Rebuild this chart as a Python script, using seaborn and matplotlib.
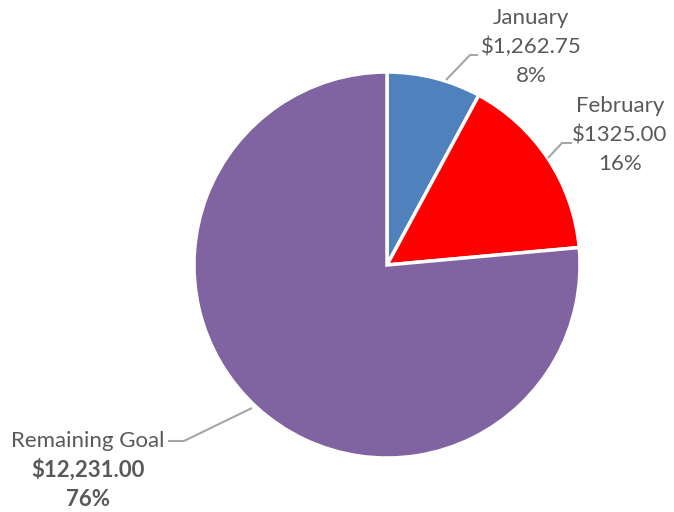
import matplotlib
matplotlib.use("Agg")
import matplotlib.pyplot as plt
import seaborn as sns

# ---- data ----
categories = ["January", "February", "Remaining Goal"]
slice_values = [1262.75, 2506.25, 12231.00]
amount_labels = ["$1,262.75", "$1325.00", "$12,231.00"]
percent_labels = ["8%", "16%", "76%"]
slice_colors = ["#4F81BD", "#FF0000", "#8064A2"]

sns.set_theme(style="white")
plt.rcParams["font.family"] = ["Lato", "DejaVu Sans"]

W, H = 674, 512
fig = plt.figure(figsize=(W / 100, H / 100), dpi=100)
ax = fig.add_axes([0, 0, 1, 1])

cx, cy, R = 387, 265, 193  # pixel centre / radius


def px(x, y):
    return ((x - cx) / R, (cy - y) / R)


ax.pie(slice_values, colors=sns.color_palette(slice_colors), startangle=90,
       counterclock=False, radius=1.0,
       wedgeprops=dict(edgecolor="white", linewidth=2.5))
ax.set_xlim(-cx / R, (W - cx) / R)
ax.set_ylim(-(H - cy) / R, cy / R)
ax.set_aspect("equal")
ax.axis("off")

txt_color = "#595959"
line_color = "#A6A6A6"
fs = 16

# label layout (pixel positions): centre x, y of first line, line spacing
layout = [
    (531, 18, 29, False),
    (620, 106, 29, False),
    (88, 441, 29, True),
]
leaders = [
    [(446, 80), (470, 55), (478, 55)],
    [(548, 158), (562, 143), (572, 143)],
    [(252, 408), (184, 441), (168, 441)],
]

for i, cat in enumerate(categories):
    x, y0, dy, bold = layout[i]
    lines = [cat, amount_labels[i], percent_labels[i]]
    for j, t in enumerate(lines):
        w = "bold" if (bold and j > 0) else "normal"
        ax.text(*px(x, y0 + j * dy), t, ha="center", va="center",
                fontsize=fs, color=txt_color, fontweight=w)
    pts = [px(a, b) for a, b in leaders[i]]
    ax.plot([p[0] for p in pts], [p[1] for p in pts], color=line_color,
            lw=1.5, solid_capstyle="butt")

fig.savefig("out.png", dpi=100)
